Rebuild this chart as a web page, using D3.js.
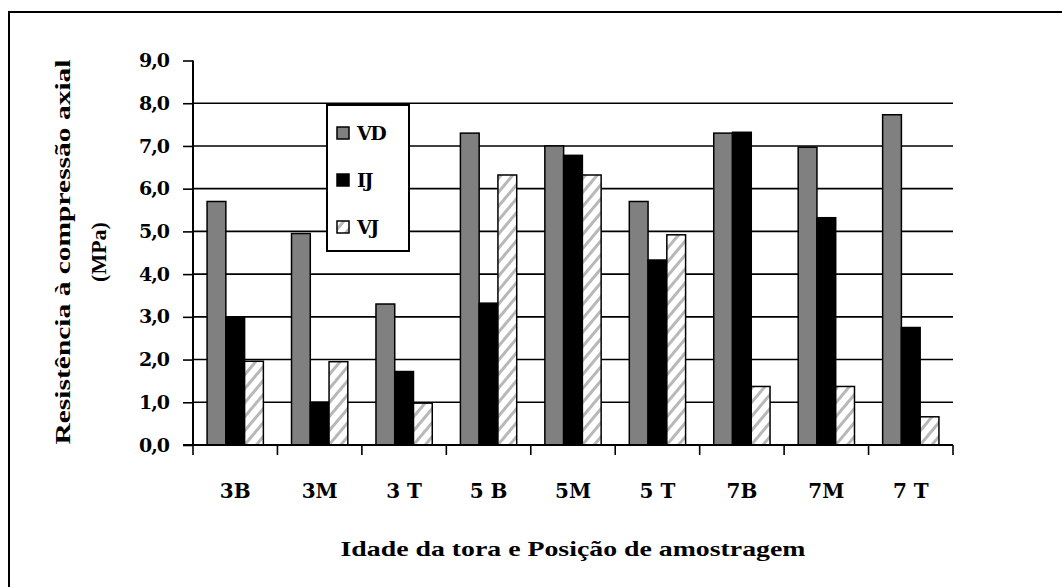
<!DOCTYPE html>
<html>
<head>
<meta charset="utf-8">
<script src="https://cdn.jsdelivr.net/npm/d3@7"></script>
<style>
	body { margin: 0; background: #fff; }
	text { font-family: "DejaVu Serif", "Liberation Serif", serif; font-weight: bold; fill: #000; }
</style>
</head>
<body>
<svg id="chart" width="1062" height="587"></svg>
<script>
const CATEGORIES = ["3B", "3M", "3 T", "5 B", "5M", "5 T", "7B", "7M", "7 T"];
const SERIES = ["VD", "IJ", "VJ"];
const VD = [5.7, 4.95, 3.3, 7.3, 7.0, 5.7, 7.3, 6.97, 7.73];
const IJ = [3.0, 1.0, 1.72, 3.32, 6.78, 4.33, 7.32, 5.32, 2.75];
const VJ = [1.96, 1.95, 0.98, 6.32, 6.32, 4.92, 1.37, 1.37, 0.66];
const Y_TICKS = [0, 1, 2, 3, 4, 5, 6, 7, 8, 9];
const Y_TITLE = ["Resistência à compressão axial", "(MPa)"];
const X_TITLE = "Idade da tora e Posição de amostragem";

const svg = d3.select("#chart");
const width = +svg.attr("width");
const height = +svg.attr("height");

const plot = { left: 193, right: 953, top: 60.5, bottom: 445 };

// hatch for the VJ series
const defs = svg.append("defs");
const pat = defs.append("pattern")
	.attr("id", "hatch")
	.attr("patternUnits", "userSpaceOnUse")
	.attr("width", 9)
	.attr("height", 9)
	.attr("patternTransform", "rotate(40)");
pat.append("rect").attr("width", 9).attr("height", 9).attr("fill", "#fff");
pat.append("rect").attr("x", 0).attr("width", 3).attr("height", 9).attr("fill", "#b8b8b8");

const fills = { VD: "#808080", IJ: "#000", VJ: "url(#hatch)" };
const values = { VD: VD, IJ: IJ, VJ: VJ };

// outer frame (top + left only)
svg.append("path")
	.attr("d", `M9,${height} V12 H${width}`)
	.attr("fill", "none")
	.attr("stroke", "#000")
	.attr("stroke-width", 2);

const x = d3.scaleBand()
	.domain(CATEGORIES)
	.range([plot.left, plot.right])
	.padding(0);

const bw = x.bandwidth();
const barW = bw / 4.5;
const xs = d3.scaleBand()
	.domain(SERIES)
	.range([(bw - 3 * barW) / 2, (bw + 3 * barW) / 2]);

const y = d3.scaleLinear()
	.domain([0, 9])
	.range([plot.bottom, plot.top]);

// grid lines
svg.append("g")
	.selectAll("line")
	.data(Y_TICKS.filter(d => d > 0 && d < 9))
	.join("line")
	.attr("x1", plot.left)
	.attr("x2", plot.right)
	.attr("y1", d => y(d))
	.attr("y2", d => y(d))
	.attr("stroke", "#000")
	.attr("stroke-width", 1.6);

// bars
const groups = svg.append("g")
	.selectAll("g")
	.data(CATEGORIES)
	.join("g")
	.attr("transform", d => `translate(${x(d)},0)`);

groups.selectAll("rect")
	.data((c, i) => SERIES.map(s => ({ s: s, v: values[s][i] })))
	.join("rect")
	.attr("x", d => xs(d.s))
	.attr("width", xs.bandwidth())
	.attr("y", d => y(d.v))
	.attr("height", d => y(0) - y(d.v))
	.attr("fill", d => fills[d.s])
	.attr("stroke", "#000")
	.attr("stroke-width", 1.5);

// y axis
const yAxis = svg.append("g")
	.attr("transform", `translate(${plot.left},0)`)
	.call(d3.axisLeft(y)
		.tickValues(Y_TICKS)
		.tickSize(10)
		.tickPadding(14)
		.tickFormat(d => d3.format(".1f")(d).replace(".", ",")));
yAxis.select(".domain").attr("stroke-width", 2).attr("d", `M0,${plot.top}V${plot.bottom}`);
yAxis.selectAll(".tick line").attr("stroke-width", 1.6);
yAxis.selectAll(".tick text")
	.style("font-family", "'DejaVu Serif', serif")
	.style("font-weight", "bold")
	.style("font-size", "19px")
	.attr("letter-spacing", "-1px");

// x axis
const xAxis = svg.append("g")
	.attr("transform", `translate(0,${plot.bottom})`);
xAxis.append("line")
	.attr("x1", plot.left - 10)
	.attr("x2", plot.right)
	.attr("stroke", "#000")
	.attr("stroke-width", 2);
xAxis.selectAll(".xtick")
	.data(CATEGORIES.map(c => x(c) + bw).concat([plot.left]))
	.join("line")
	.attr("class", "xtick")
	.attr("x1", d => d)
	.attr("x2", d => d)
	.attr("y1", 0)
	.attr("y2", 10)
	.attr("stroke", "#000")
	.attr("stroke-width", 1.6);
xAxis.selectAll(".xlabel")
	.data(CATEGORIES)
	.join("text")
	.attr("class", "xlabel")
	.attr("x", d => x(d) + bw / 2)
	.attr("y", 53)
	.attr("text-anchor", "middle")
	.style("font-size", "20px")
	.text(d => d);

// x title
svg.append("text")
	.attr("x", 573)
	.attr("y", 556)
	.attr("text-anchor", "middle")
	.attr("textLength", 465)
	.attr("lengthAdjust", "spacingAndGlyphs")
	.style("font-size", "22px")
	.style("font-family", "'Liberation Serif', serif")
	.text(X_TITLE);

// y title
const yt = svg.append("text")
	.attr("transform", "translate(0,0) rotate(-90)")
	.attr("text-anchor", "middle")
	.style("font-family", "'Liberation Serif', serif")
	.style("font-size", "22px");
yt.selectAll("tspan")
	.data(Y_TITLE)
	.join("tspan")
	.attr("x", -252)
	.attr("y", (d, i) => 70 + i * 36)
	.attr("textLength", (d, i) => i === 0 ? 385 : null)
	.attr("lengthAdjust", "spacingAndGlyphs")
	.text(d => d);

// legend
const legend = svg.append("g").attr("transform", "translate(327,105)");
legend.append("rect")
	.attr("width", 82)
	.attr("height", 146)
	.attr("fill", "#fff")
	.attr("stroke", "#000")
	.attr("stroke-width", 2);
const item = legend.selectAll("g")
	.data(SERIES)
	.join("g")
	.attr("transform", (d, i) => `translate(10,${28 + i * 47})`);
item.append("rect")
	.attr("x", 0)
	.attr("y", -6)
	.attr("width", 12)
	.attr("height", 12)
	.attr("fill", d => fills[d])
	.attr("stroke", "#000")
	.attr("stroke-width", 1.5);
item.append("text")
	.attr("x", 20)
	.attr("y", 7)
	.style("font-size", "19px")
	.attr("letter-spacing", "-1.5px")
	.text(d => d);
</script>
</body>
</html>
